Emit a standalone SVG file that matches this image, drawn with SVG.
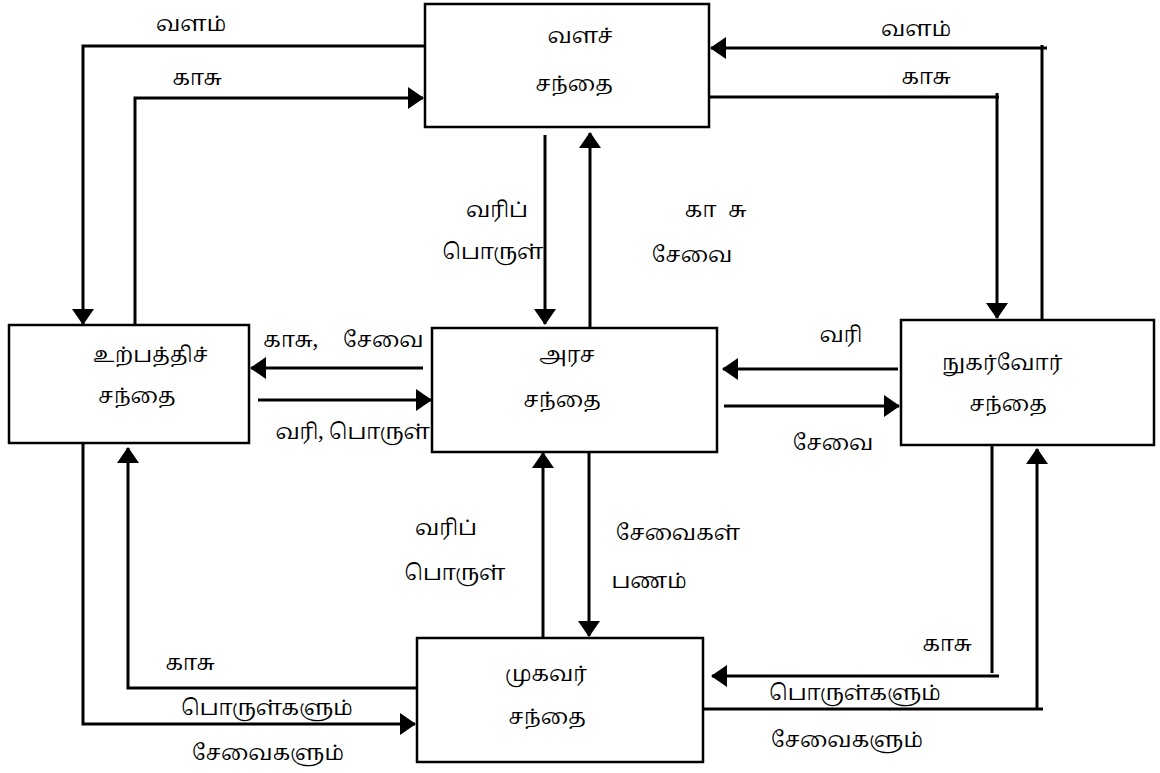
<svg xmlns="http://www.w3.org/2000/svg" width="1160" height="773" viewBox="0 0 1160 773">
  <style>
    .box { fill: #ffffff; stroke: #000000; stroke-width: 2.5; }
    .wire { fill: none; stroke: #000000; stroke-width: 3; }
    .t { font-family: "Noto Serif Tamil", "Noto Sans Tamil", "Lohit Tamil", "Noto Sans", sans-serif; font-size: 21px; fill: #000000; text-anchor: middle; }
    .s { text-anchor: start; }
    .e { text-anchor: end; }
  </style>
  <defs>
    <marker id="arrow" markerUnits="userSpaceOnUse" markerWidth="16" markerHeight="22" viewBox="0 0 16 22" refX="15" refY="11" orient="auto">
      <path d="M0,0 L16,11 L0,22 z" fill="#000000"/>
    </marker>
  </defs>
  <rect width="1160" height="773" fill="#ffffff"/>

  <!-- flows between the markets -->
  <g id="connectors">
    <!-- resource market <-> production market -->
    <path class="wire" d="M425,46 H83 V324" marker-end="url(#arrow)"/>
    <path class="wire" d="M135,325 V98 H423" marker-end="url(#arrow)"/>
    <!-- resource market <-> consumer market -->
    <path class="wire" d="M1042,319 V45 M1047,48 H711" marker-end="url(#arrow)"/>
    <path class="wire" d="M709,97 H999 M997,93 V318" marker-end="url(#arrow)"/>
    <!-- resource market <-> government market -->
    <path class="wire" d="M545,135 V324" marker-end="url(#arrow)"/>
    <path class="wire" d="M590,328 V133" marker-end="url(#arrow)"/>
    <!-- government market <-> production market -->
    <path class="wire" d="M423,368 H251" marker-end="url(#arrow)"/>
    <path class="wire" d="M258,400 H431" marker-end="url(#arrow)"/>
    <!-- government market <-> consumer market -->
    <path class="wire" d="M898,369 H723" marker-end="url(#arrow)"/>
    <path class="wire" d="M724,406 H899" marker-end="url(#arrow)"/>
    <!-- government market <-> agent market -->
    <path class="wire" d="M543,638 V453" marker-end="url(#arrow)"/>
    <path class="wire" d="M589,452 V636" marker-end="url(#arrow)"/>
    <!-- production market <-> agent market -->
    <path class="wire" d="M83,443 V724 H415" marker-end="url(#arrow)"/>
    <path class="wire" d="M417,688 H128 V448" marker-end="url(#arrow)"/>
    <!-- consumer market <-> agent market -->
    <path class="wire" d="M992,444 V673 M999,676 H712" marker-end="url(#arrow)"/>
    <path class="wire" d="M703,709 H1043 M1037,709 V449" marker-end="url(#arrow)"/>
  </g>

  <g id="resource-market">
    <rect class="box" x="425" y="4" width="284" height="123"/>
    <text class="t" x="580" y="43">வளச்</text>
    <text class="t" x="574" y="91">சந்தை</text>
  </g>

  <g id="production-market">
    <rect class="box" x="9" y="325" width="240" height="118"/>
    <text class="t s" x="93" y="362">உற்பத்திச்</text>
    <text class="t s" x="98" y="403">சந்தை</text>
  </g>

  <g id="government-market">
    <rect class="box" x="432" y="328" width="285" height="124"/>
    <text class="t" x="567" y="362">அரச</text>
    <text class="t" x="562" y="407">சந்தை</text>
  </g>

  <g id="consumer-market">
    <rect class="box" x="901" y="320" width="253" height="125"/>
    <text class="t" x="1002" y="370">நுகர்வோர்</text>
    <text class="t" x="1008" y="411">சந்தை</text>
  </g>

  <g id="agent-market">
    <rect class="box" x="417" y="638" width="286" height="124"/>
    <text class="t" x="546" y="681">முகவர்</text>
    <text class="t" x="547" y="724">சந்தை</text>
  </g>

  <!-- flow labels -->
  <g id="labels">
    <text class="t" x="191" y="31">வளம்</text>
    <text class="t" x="197" y="85">காசு</text>
    <text class="t" x="916" y="36">வளம்</text>
    <text class="t" x="926" y="84">காசு</text>

    <text class="t" x="497" y="217">வரிப்</text>
    <text class="t" x="493" y="259">பொருள்</text>
    <text class="t" x="717" y="217" letter-spacing="3">கா சு</text>
    <text class="t" x="692" y="262">சேவை</text>

    <text class="t s" y="347"><tspan x="263">காசு,</tspan> <tspan x="343">சேவை</tspan></text>
    <text class="t e" x="430" y="439">வரி,  பொருள்</text>

    <text class="t" x="841" y="342">வரி</text>
    <text class="t" x="833" y="450">சேவை</text>

    <text class="t" x="446" y="535">வரிப்</text>
    <text class="t" x="455" y="580">பொருள்</text>
    <text class="t" x="678" y="540">சேவைகள்</text>
    <text class="t" x="649" y="588">பணம்</text>

    <text class="t" x="190" y="670">காசு</text>
    <text class="t" x="267" y="715">பொருள்களும்</text>
    <text class="t" x="268" y="760">சேவைகளும்</text>

    <text class="t" x="947" y="651">காசு</text>
    <text class="t" x="855" y="700">பொருள்களும்</text>
    <text class="t" x="847" y="747">சேவைகளும்</text>
  </g>
</svg>
